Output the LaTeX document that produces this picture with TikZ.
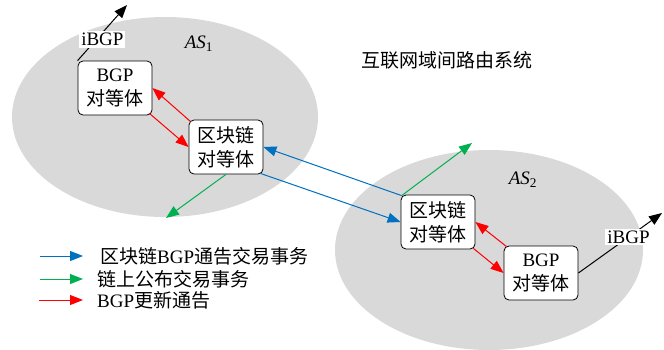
\documentclass[tikz,border=0pt]{standalone}
\usepackage{fontspec}
\setmainfont{Liberation Serif}
\newfontfamily\cjk{Noto Sans CJK SC}
\usetikzlibrary{arrows.meta}
\definecolor{asgray}{RGB}{217,217,217}
\definecolor{bcblue}{RGB}{0,112,192}
\definecolor{pubgreen}{RGB}{0,176,80}
\definecolor{updred}{RGB}{255,0,0}
\tikzset{
  peer/.style={draw=black, fill=white, rounded corners=5pt, minimum width=74pt,
    minimum height=54pt, align=center, inner sep=1pt, line width=0.8pt,
    font=\fontsize{19}{24}\selectfont},
  conn/.style={line width=1pt, -{Triangle[length=13pt,width=10pt]}},
  txt/.style={font=\fontsize{19}{22}\selectfont, inner sep=0pt},
  lbl/.style={fill=white, inner sep=2pt, font=\fontsize{19}{22}\selectfont}
}
\begin{document}
\begin{tikzpicture}[x=1pt,y=-1pt]
\useasboundingbox (0,0) rectangle (664,349);
\clip (0,0) rectangle (664,349);
% AS regions
\fill[asgray] (165,117) ellipse [x radius=153pt, y radius=100pt];
\fill[asgray] (489,250) ellipse [x radius=154pt, y radius=100pt];
% labels
\node[txt] (as1) at (199,44) {\itshape AS\textsubscript{\upshape 1}};
\node[txt] (as2) at (523,180) {\itshape AS\textsubscript{\upshape 2}};
\node[txt] (title) at (447,60) {\cjk 互联网域间路由系统};
% peers
\node[peer] (bgp1) at (115,88) {BGP\\{\cjk 对等体}};
\node[peer] (bc1) at (226,147) {{\cjk 区块链}\\{\cjk 对等体}};
\node[peer] (bc2) at (438,222) {{\cjk 区块链}\\{\cjk 对等体}};
\node[peer] (bgp2) at (541,273) {BGP\\{\cjk 对等体}};
% free ends
\coordinate (ib1) at (127,5);
\coordinate (ib2) at (662,213);
\coordinate (g1) at (166,218);
\coordinate (g2) at (472,143);
% iBGP
\draw[conn, black] (bgp1.north west) -- node[lbl, pos=0.38, xshift=6pt] {iBGP} (ib1);
\draw[conn, black] (bgp2.east) -- node[lbl, pos=0.6] {iBGP} (ib2);
% red BGP updates
\draw[conn, updred] ([xshift=2pt,yshift=-2pt]bc1.north west) -- (bgp1.east);
\draw[conn, updred] ([xshift=-3pt,yshift=2pt]bgp1.south east) -- (bc1.west);
\draw[conn, updred] ([xshift=3pt,yshift=-1pt]bgp2.north west) -- (bc2.east);
\draw[conn, updred] ([xshift=-2pt,yshift=1pt]bc2.south east) -- (bgp2.west);
% blue blockchain BGP announcements
\draw[conn, bcblue] ([xshift=1pt,yshift=-1pt]bc2.north west) -- (bc1.east);
\draw[conn, bcblue] ([xshift=-3pt,yshift=1pt]bc1.south east) -- (bc2.west);
% green publish
\draw[conn, pubgreen] (bc1.south) -- (g1);
\draw[conn, pubgreen] ([xshift=1pt,yshift=-1pt]bc2.north west) -- (g2);
% legend
\coordinate (la1) at (40,256); \coordinate (lb1) at (83,256);
\coordinate (la2) at (40,279); \coordinate (lb2) at (83,279);
\coordinate (la3) at (39,300); \coordinate (lb3) at (83,300);
\draw[conn, bcblue] (la1) -- (lb1);
\draw[conn, pubgreen] (la2) -- (lb2);
\draw[conn, updred] (la3) -- (lb3);
\node[txt, anchor=west] (l1) at (100,256) {{\cjk 区块链}BGP{\cjk 通告交易事务}};
\node[txt, anchor=west] (l2) at (97,279) {\cjk 链上公布交易事务};
\node[txt, anchor=west] (l3) at (97,300) {BGP{\cjk 更新通告}};
\end{tikzpicture}
\end{document}
